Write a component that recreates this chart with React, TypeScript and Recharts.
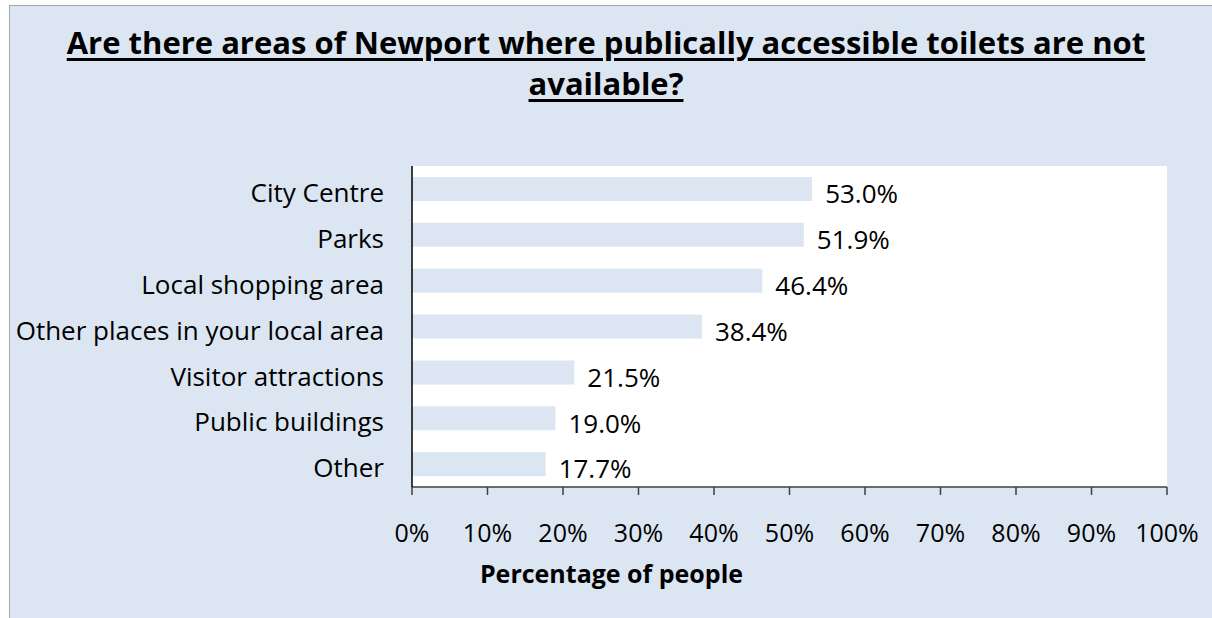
import { BarChart, Bar, XAxis, YAxis, CartesianGrid, LabelList } from 'recharts'

const categories = [
  'City Centre',
  'Parks',
  'Local shopping area',
  'Other places in your local area',
  'Visitor attractions',
  'Public buildings',
  'Other',
]
const percentages = [53.0, 51.9, 46.4, 38.4, 21.5, 19.0, 17.7]
const xTicks = [0, 10, 20, 30, 40, 50, 60, 70, 80, 90, 100]

const data = categories.map((name, i) => ({ name, value: percentages[i] }))

const FONT = '"Open Sans", sans-serif'
const BG = '#dce6f2'

export default function App() {
  return (
    <div style={{ position: 'absolute', left: 0, top: 0, width: 1212, height: 618, fontFamily: FONT }}>
      {/* outer frame */}
      <div
        style={{
          position: 'absolute',
          left: 9,
          top: 5,
          width: 1203,
          height: 613,
          boxSizing: 'border-box',
          background: BG,
          borderTop: '1px solid #a6a6a6',
          borderLeft: '1px solid #a6a6a6',
        }}
      />
      <div
        style={{
          position: 'absolute',
          left: 0,
          top: 22,
          width: 1212,
          textAlign: 'center',
          fontSize: 31,
          fontWeight: 700,
          lineHeight: '41px',
          color: '#000',
          textDecoration: 'underline',
          textDecorationThickness: 3,
          textUnderlineOffset: 4,
        }}
      >
        Are there areas of Newport where publically accessible toilets are not
        <br />
        available?
      </div>
      <div style={{ position: 'absolute', left: 0, top: 0 }}>
        <BarChart
          width={1212}
          height={618}
          data={data}
          layout="vertical"
          margin={{ top: 166, right: 45, bottom: 21, left: 12 }}
        >
          <CartesianGrid fill="#ffffff" stroke="none" />
          <XAxis
            type="number"
            domain={[0, 100]}
            ticks={xTicks}
            interval={0}
            tickFormatter={(v) => `${v}%`}
            height={110}
            tickSize={8}
            tickMargin={29}
            axisLine={{ stroke: '#404040', strokeWidth: 1.5 }}
            tickLine={{ stroke: '#404040', strokeWidth: 1.5 }}
            tick={{ fontSize: 25, fill: '#000', fontFamily: FONT }}
            label={{
              value: 'Percentage of people',
              position: 'insideBottom',
              offset: 14,
              dx: -178,
              style: { fontSize: 25, fontWeight: 700, fill: '#000', fontFamily: FONT },
            }}
          />
          <YAxis
            type="category"
            dataKey="name"
            width={400}
            interval={0}
            tickSize={0}
            tickMargin={28}
            axisLine={{ stroke: '#000', strokeWidth: 1.5 }}
            tickLine={false}
            tick={{ fontSize: 26, fill: '#000', fontFamily: FONT, dy: 4 }}
          />
          <Bar dataKey="value" fill={BG} barSize={24} isAnimationActive={false}>
            <LabelList
              dataKey="value"
              position="right"
              offset={13}
              dy={5}
              formatter={(v: any) => `${Number(v).toFixed(1)}%`}
              style={{ fontSize: 26, fill: '#000', fontFamily: FONT }}
            />
          </Bar>
        </BarChart>
      </div>
    </div>
  )
}
